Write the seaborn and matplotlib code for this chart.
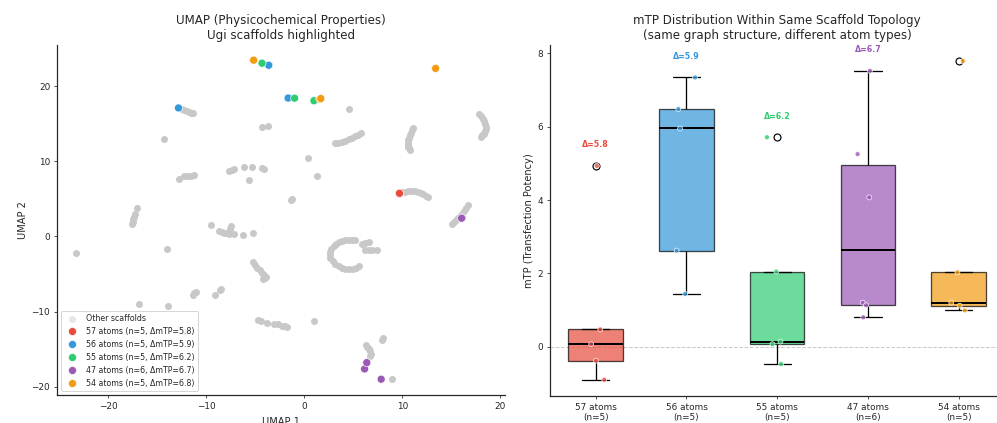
import numpy as np
import pandas as pd
import matplotlib
matplotlib.use('Agg')
import matplotlib.pyplot as plt
import seaborn as sns

sns.set_style('ticks')
plt.rcParams['font.family'] = ['DejaVu Sans']
plt.rcParams['axes.linewidth'] = 1.25

# ---- data: right panel (mTP per scaffold topology) ----
groups = ['57', '56', '55', '47', '54']
colors = ['#e74c3c', '#3498db', '#2ecc71', '#9b59b6', '#f39c12']
mtp_57 = [4.93, 0.47, 0.07, -0.38, -0.90]
mtp_56 = [7.34, 6.48, 5.95, 2.62, 1.44]
mtp_55 = [5.71, 2.05, 0.14, 0.07, -0.47]
mtp_47 = [7.52, 5.25, 4.07, 1.20, 1.13, 0.80]
mtp_54 = [7.79, 2.03, 1.20, 1.12, 0.99]
mtp_vals = [mtp_57, mtp_56, mtp_55, mtp_47, mtp_54]

# ---- data: left panel (UMAP coords) ----
other_x = [-12.5, -12.21, -11.98, -11.78, -11.55, -11.37, -14.31, -4.30, -3.65, 4.54,
           3.11, 3.45, 3.86, 4.2, 4.54, 4.88, 5.21, 5.52, 5.82,
           11.13, 11.0, 10.89, 10.78, 10.69, 10.6, 10.56, 10.58, 10.63, 10.72, 10.79,
           17.8, 18.02, 18.24, 18.38, 18.48, 18.52, 18.51, 18.42, 18.31, 18.18, 18.07,
           0.34, -7.64, -7.4, -7.14, -6.12, -5.35, -4.33, -4.09,
           -12.79, -12.28, -11.85, -11.5, -11.24, -5.58, 1.32, -1.35, -1.22, -17.06,
           10.0, 10.29, 10.6, 10.96, 11.3, 11.64, 11.9, 12.15, 12.38, 12.59,
           16.7, 16.5, 16.29, 16.1, 15.89, 15.65, 15.44, 15.23, 15.03,
           -17.3, -17.4, -17.46, -17.5, -17.53, -23.25, -13.98, -9.54,
           -8.66, -8.4, -8.15, -7.9, -7.64, -7.14, -7.48, -7.6, -6.19, -5.21,
           -5.18, -4.98, -4.77, -4.55, -4.33, -4.13, -3.93, -4.0, -4.16,
           -11.37, -11.2, -11.03, -9.07, -8.6, -8.49, -16.8, -13.9,
           -4.7, -4.4, -3.76, -3.08, -2.7, -2.23, -1.98, -1.73, 0.95, -12.11,
           5.2, 4.87, 4.55, 4.2, 3.86, 3.52, 3.25, 3.01, 2.78, 2.6, 2.6, 2.67, 2.9, 3.18,
           3.5, 3.86, 4.2, 4.6, 4.95, 5.28, 5.55,
           5.89, 6.23, 6.57, 6.23, 6.57, 6.9, 7.41,
           6.34, 6.45, 6.57, 6.7, 6.83, 6.73, 7.92, 8.02, 8.93]
other_y = [16.95, 16.8, 16.68, 16.57, 16.48, 16.4, 12.93, 14.53, 14.71, 16.98,
           12.4, 12.45, 12.57, 12.72, 12.93, 13.15, 13.38, 13.55, 13.73,
           14.49, 14.15, 13.82, 13.5, 13.16, 12.8, 12.4, 12.2, 11.96, 11.72, 11.51,
           16.27, 16.0, 15.69, 15.3, 14.93, 14.6, 14.27, 13.98, 13.69, 13.48, 13.29,
           10.4, 8.71, 8.8, 8.93, 9.24, 9.29, 9.11, 9.02,
           7.6, 8.04, 8.04, 8.08, 8.13, 7.47, 8.04, 4.89, 5.02, 3.82,
           5.85, 5.91, 5.98, 6.04, 6.0, 5.91, 5.78, 5.6, 5.42, 5.24,
           4.13, 3.76, 3.38, 3.05, 2.71, 2.45, 2.18, 1.9, 1.6,
           2.93, 2.6, 2.27, 1.95, 1.6, -2.18, -1.73, 1.51,
           0.71, 0.6, 0.49, 0.42, 0.36, 0.36, 1.38, 1.0, 0.18, 0.4,
           -3.42, -3.8, -4.18, -4.5, -4.84, -5.1, -5.38, -5.55, -5.73,
           -7.73, -7.58, -7.42, -7.82, -7.1, -6.98, -8.98, -9.29,
           -11.07, -11.2, -11.51, -11.6, -11.7, -11.87, -11.95, -12.09, -11.29, -12.76,
           -0.45, -0.49, -0.45, -0.49, -0.6, -0.76, -1.0, -1.29, -1.7, -2.09, -2.45, -2.84, -3.25, -3.64,
           -3.95, -4.18, -4.32, -4.4, -4.32, -4.18, -3.96,
           -0.98, -0.85, -0.71, -1.87, -1.87, -1.87, -1.82,
           -14.4, -14.7, -14.98, -15.3, -15.6, -15.96, -13.73, -13.51, -18.93]

umap_57_x = [9.71, 9.68, 9.74, 9.70, 9.72]
umap_57_y = [5.73, 5.75, 5.71, 5.72, 5.74]
umap_56_x = [-3.59, -12.82, -1.66, -3.62, -1.63]
umap_56_y = [22.8, 17.1, 18.4, 22.78, 18.42]
umap_55_x = [-4.33, -0.98, 0.98, 1.0, -4.3]
umap_55_y = [23.07, 18.4, 18.04, 18.06, 23.05]
umap_47_x = [16.1, 16.05, 6.4, 6.16, 7.85, 6.38]
umap_47_y = [2.49, 2.42, -16.76, -17.64, -19.0, -16.8]
umap_54_x = [-5.18, 13.4, 1.59, 1.7, -5.15]
umap_54_y = [23.47, 22.36, 18.27, 18.35, 23.45]
umap_x = [umap_57_x, umap_56_x, umap_55_x, umap_47_x, umap_54_x]
umap_y = [umap_57_y, umap_56_y, umap_55_y, umap_47_y, umap_54_y]

fig = plt.figure(figsize=(14, 5.94), dpi=71.25)
ax1 = fig.add_axes([0.0572, 0.0662, 0.4493, 0.8274])
ax2 = fig.add_axes([0.5517, 0.0641, 0.4549, 0.8295])

# ---- left: UMAP ----
sns.scatterplot(x=other_x, y=other_y, color='#c8c8c8', s=50, linewidth=0,
                label='Other scaffolds', ax=ax1, zorder=1)
rows = []
for g, xs, ys, vals in zip(groups, umap_x, umap_y, mtp_vals):
    lab = f'{g} atoms (n={len(vals)}, ΔmTP={max(vals) - min(vals):.1f})'
    for x, y in zip(xs, ys):
        rows.append({'x': x, 'y': y, 'grp': lab})
hl = pd.DataFrame(rows)
sns.scatterplot(data=hl, x='x', y='y', hue='grp', palette=colors, s=65,
                edgecolor='white', linewidth=0.6, ax=ax1, zorder=3)
ax1.set_xlim(-25.2, 20.5)
ax1.set_ylim(-21.1, 25.5)
ax1.set_xticks([-20, -10, 0, 10, 20])
ax1.set_yticks([-20, -10, 0, 10, 20])
ax1.set_xlabel('UMAP 1', fontsize=10, labelpad=6)
ax1.set_ylabel('UMAP 2', fontsize=10)
ax1.set_title('UMAP (Physicochemical Properties)\nUgi scaffolds highlighted', fontsize=12)
ax1.tick_params(labelsize=9)
leg = ax1.legend(loc='lower left', fontsize=8, framealpha=0.8, title=None)
leg.legend_handles[0].set_alpha(0.45)
sns.despine(ax=ax1)

# ---- right: box plots ----
cats = [f'{g} atoms\n(n={len(v)})' for g, v in zip(groups, mtp_vals)]
box_df = pd.DataFrame([{'cat': c, 'mtp': v} for c, vals in zip(cats, mtp_vals) for v in vals])
ax2.axhline(0, color='#bbbbbb', linestyle='--', linewidth=1, alpha=0.8, zorder=0)
sns.boxplot(data=box_df, x='cat', y='mtp', hue='cat', order=cats, hue_order=cats,
            palette=colors, saturation=1, width=0.6, linecolor='black', linewidth=1.3,
            boxprops=dict(alpha=0.7),
            medianprops=dict(color='black', linewidth=2),
            flierprops=dict(marker='o', markerfacecolor='none', markeredgecolor='black',
                            markersize=7, markeredgewidth=1.2),
            legend=False, ax=ax2)
np.random.seed(3)
sns.stripplot(data=box_df, x='cat', y='mtp', hue='cat', order=cats, hue_order=cats,
              palette=colors, size=5, jitter=0.12, edgecolor='white', linewidth=0.8,
              alpha=0.8, legend=False, ax=ax2, zorder=3)
ax2.set_xlim(-0.5, 4.5)
ax2.set_ylim(-1.34, 8.23)
for i, (vals, col) in enumerate(zip(mtp_vals, colors)):
    ty = max(vals) + 0.58
    if ty < ax2.get_ylim()[1]:
        ax2.text(i, ty, f'Δ={max(vals) - min(vals):.1f}', ha='center', va='center',
                 color=col, fontsize=8, fontweight='bold')
ax2.set_xlabel('')
ax2.set_ylabel('mTP (Transfection Potency)', fontsize=10)
ax2.set_title('mTP Distribution Within Same Scaffold Topology\n(same graph structure, different atom types)',
              fontsize=12)
ax2.tick_params(labelsize=9)
sns.despine(ax=ax2)

fig.savefig('out.png', dpi=71.25)
